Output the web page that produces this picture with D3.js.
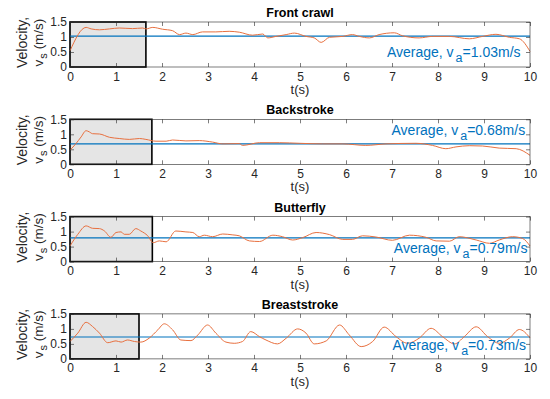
<!DOCTYPE html>
<html>
<head>
<meta charset="utf-8">
<script src="https://cdn.jsdelivr.net/npm/d3@7"></script>
<style>
  body { margin: 0; background: #fff; }
  text { font-family: Arial, "Liberation Sans", sans-serif; }
</style>
</head>
<body>
<div class="swim"></div>
<script>
// Swimming velocity data

var strokeNames = ["Front crawl", "Backstroke", "Butterfly", "Breaststroke"];
var averages = [1.03, 0.68, 0.79, 0.73];
var shadeEnds = [1.65, 1.78, 1.79, 1.5];
var xTicks = [0, 1, 2, 3, 4, 5, 6, 7, 8, 9, 10];
var yTicks = [0, 0.5, 1, 1.5];

var crawlT = [0,0.35,0.46,0.64,0.86,1.07,1.36,1.58,1.65,1.80,2.01,2.23,2.38,2.52,2.67,2.88,3.17,3.46,3.68,3.97,4.19,4.30,4.48,4.70,4.88,5.13,5.31,5.46,5.64,5.93,6.14,6.29,6.51,6.72,7.05,7.23,7.59,7.88,8.25,8.68,8.97,9.26,9.55,9.77,10];
var crawlV = [0.54,1.32,1.27,1.24,1.27,1.30,1.28,1.30,1.27,1.32,1.26,1.21,1.08,1.13,1.08,1.17,1.17,1.19,1.16,1.06,1.10,0.97,1.02,1.08,1.13,1.02,0.97,0.82,0.99,1.02,1.08,1.02,0.97,1.08,1.14,1.04,0.97,1.02,1.02,0.94,1.02,1.09,0.99,0.94,0.52];

var backT = [0,0.13,0.24,0.35,0.42,0.49,0.64,0.86,1.07,1.29,1.51,1.65,1.87,2.09,2.23,2.52,2.81,3.10,3.32,3.68,3.75,4.12,4.55,4.99,5.49,5.93,6.43,6.87,7.52,7.88,8.17,8.39,8.68,8.97,9.33,9.70,10];
var backV = [0.47,0.69,0.91,1.12,1.08,1.02,1.01,0.90,0.86,0.83,0.86,0.83,0.77,0.77,0.81,0.78,0.79,0.74,0.68,0.69,0.63,0.72,0.72,0.70,0.68,0.68,0.63,0.68,0.70,0.63,0.52,0.58,0.62,0.61,0.54,0.52,0.30];

var flyT = [0,0.17,0.35,0.49,0.64,0.75,0.89,1.0,1.11,1.18,1.29,1.43,1.54,1.69,1.81,1.94,2.09,2.30,2.52,2.67,2.81,2.92,3.10,3.32,3.54,3.68,3.90,4.12,4.41,4.62,4.84,5.06,5.35,5.64,5.93,6.14,6.36,6.65,7.01,7.38,7.74,7.96,8.25,8.46,8.83,9.12,9.33,9.62,9.84,10];
var flyV = [0.52,0.91,1.19,1.11,1.10,1.02,0.81,0.97,0.99,0.91,0.91,1.10,1.02,0.86,0.63,0.69,0.66,1.02,0.99,0.97,0.83,0.88,0.83,0.92,0.89,0.86,0.69,0.67,0.88,0.83,0.72,0.80,0.97,0.90,0.74,0.74,0.86,0.82,0.71,0.88,0.81,0.69,0.68,0.83,0.72,0.61,0.72,0.83,0.77,0.52];

var breastT = [0,0.17,0.35,0.49,0.64,0.82,1.0,1.11,1.25,1.40,1.54,1.72,1.91,2.05,2.23,2.41,2.63,2.78,2.99,3.17,3.39,3.57,3.75,3.93,4.12,4.26,4.51,4.70,4.95,5.13,5.31,5.57,5.86,6.07,6.33,6.58,6.83,7.09,7.34,7.59,7.85,8.10,8.36,8.57,8.83,9.08,9.33,9.55,9.77,10];
var breastV = [0.58,0.86,1.22,1.08,0.86,0.54,0.60,0.56,0.63,0.58,0.56,0.69,0.97,1.17,0.97,0.63,0.61,0.80,1.13,0.86,0.56,0.52,0.58,0.91,0.74,0.63,0.50,0.69,1.00,0.86,0.50,0.60,1.13,0.80,0.41,0.58,1.06,0.74,0.52,0.69,1.02,0.74,0.50,0.74,1.07,0.74,0.52,0.69,0.98,0.70];

var seriesT = [crawlT, backT, flyT, breastT];
var seriesV = [crawlV, backV, flyV, breastV];

// where the "Average" text sits, in data units
var labelPos = [[6.89, 0.32], [6.99, 0.99], [7.04, 0.29], [7.01, 0.30]];

var width = 550, height = 399;
var left = 70, plotW = 460, plotH = 45;
var tops = [22, 119.3, 216.6, 313.9];

var axisColor = "#262626";
var lineColor = "#E8703F";
var avgColor = "#0072BD";

var svg = d3.select("div.swim")
  .append("svg")
  .attr("width", width)
  .attr("height", height)
  .style("display", "block");

var x = d3.scaleLinear().domain([0, 10]).range([0, plotW]);
var y = d3.scaleLinear().domain([0, 1.5]).range([plotH, 0]);

var line = d3.line()
  .x(function(d) { return x(d[0]); })
  .y(function(d) { return y(d[1]); })
  .curve(d3.curveMonotoneX);

function styleAxis(g) {
  g.select(".domain").remove();
  g.selectAll("line").attr("stroke", axisColor).attr("stroke-width", 0.6);
  g.selectAll("text")
    .attr("fill", axisColor)
    .style("font-size", "12px")
    .style("font-family", "Arial, 'Liberation Sans', sans-serif");
}

function drawPanel(i) {
  var g = svg.append("g")
    .attr("transform", "translate(" + left + "," + tops[i] + ")");

  g.append("rect")
    .attr("width", plotW).attr("height", plotH)
    .attr("fill", "#fff");

  // shaded start phase
  g.append("rect")
    .attr("x", x(0)).attr("y", y(1.5))
    .attr("width", x(shadeEnds[i]) - x(0))
    .attr("height", y(0) - y(1.5))
    .attr("fill", "#e5e5e5")
    .attr("stroke", "#000")
    .attr("stroke-width", 1.6);

  g.append("line")
    .attr("x1", x(0)).attr("x2", x(10))
    .attr("y1", y(averages[i])).attr("y2", y(averages[i]))
    .attr("stroke", avgColor)
    .attr("stroke-width", 1.1);

  var pts = seriesT[i].map(function(t, k) { return [t, seriesV[i][k]]; });
  g.append("path")
    .datum(pts)
    .attr("fill", "none")
    .attr("stroke", lineColor)
    .attr("stroke-width", 1)
    .attr("d", line);

  // axes box
  g.append("rect")
    .attr("width", plotW).attr("height", plotH)
    .attr("fill", "none")
    .attr("stroke", axisColor)
    .attr("stroke-width", 0.6);

  g.append("g")
    .attr("transform", "translate(0," + plotH + ")")
    .call(d3.axisBottom(x).tickValues(xTicks).tickSizeInner(-4).tickSizeOuter(0).tickPadding(5))
    .call(styleAxis);
  g.append("g")
    .call(d3.axisTop(x).tickValues(xTicks).tickSizeInner(-4).tickSizeOuter(0).tickFormat(""))
    .call(styleAxis);
  g.append("g")
    .call(d3.axisLeft(y).tickValues(yTicks).tickSizeInner(-4).tickSizeOuter(0).tickPadding(3)
      .tickFormat(d3.format("~g")))
    .call(styleAxis);
  g.append("g")
    .attr("transform", "translate(" + plotW + ",0)")
    .call(d3.axisRight(y).tickValues(yTicks).tickSizeInner(-4).tickSizeOuter(0).tickFormat(""))
    .call(styleAxis);

  g.append("text")
    .attr("x", plotW / 2).attr("y", -5)
    .attr("text-anchor", "middle")
    .style("font-size", "12.5px")
    .style("font-weight", "bold")
    .attr("fill", "#000")
    .text(strokeNames[i]);

  g.append("text")
    .attr("x", plotW / 2).attr("y", plotH + 27)
    .attr("text-anchor", "middle")
    .style("font-size", "13px")
    .attr("fill", axisColor)
    .text("t(s)");

  // y label, two lines
  var cy = plotH / 2 - 2;
  g.append("text")
    .attr("transform", "translate(" + (27 - left) + "," + cy + ") rotate(-90)")
    .attr("text-anchor", "middle")
    .style("font-size", "14px")
    .attr("fill", axisColor)
    .text("Velocity,");
  var yl2 = g.append("text")
    .attr("transform", "translate(" + (43 - left) + "," + cy + ") rotate(-90)")
    .attr("text-anchor", "middle")
    .style("font-size", "13.5px")
    .attr("fill", axisColor);
  yl2.append("tspan").text("v");
  yl2.append("tspan").attr("dx", 1).attr("dy", 4).style("font-size", "11px").text("s");
  yl2.append("tspan").attr("dy", -4).text(" (m/s)");

  // average annotation
  var lab = g.append("text")
    .attr("x", x(labelPos[i][0])).attr("y", y(labelPos[i][1]))
    .style("font-size", "14px")
    .attr("fill", avgColor);
  lab.append("tspan").text("Average, v");
  lab.append("tspan").attr("dx", 2).attr("dy", 5).style("font-size", "12.5px").text("a");
  lab.append("tspan").attr("dy", -5).text("=" + averages[i].toFixed(2) + "m/s");
}

for (var i = 0; i < strokeNames.length; i++) {
  drawPanel(i);
}
</script>
</body>
</html>
